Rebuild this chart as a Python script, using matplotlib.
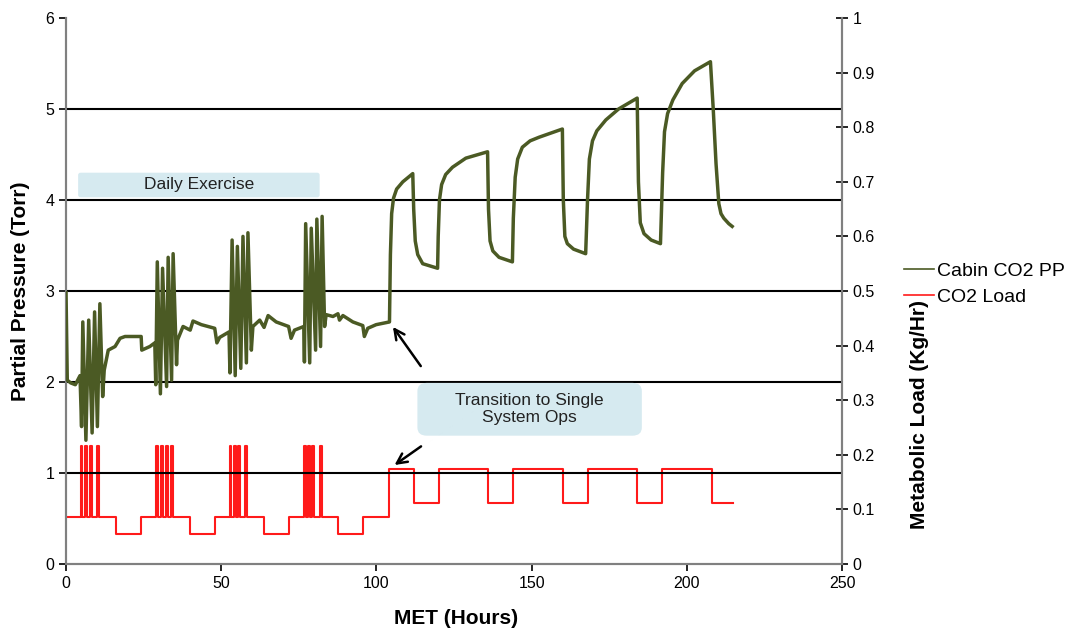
import matplotlib
matplotlib.use("Agg")
import matplotlib.pyplot as plt
from matplotlib.patches import FancyBboxPatch

plt.rcParams['font.family'] = ['Liberation Sans', 'DejaVu Sans']

# Cabin CO2 partial pressure (Torr) vs MET (hours)
pp_t = [0, 0.4, 1.5, 3.0, 4.5, 5.0, 5.4, 6.4, 7.3, 8.4, 9.2, 10.1, 10.9, 11.8,
        12.3, 13.6, 15.8, 17.4, 19.0, 24.2, 24.4, 27.0, 28.6,
        28.9, 29.4, 30.4, 31.1, 32.4, 32.9, 34.0, 34.5, 35.6,
        35.9, 37.7, 40.0, 40.9, 43.6, 47.9, 48.6, 49.5, 52.5,
        52.8, 53.5, 54.5, 55.2, 56.3, 57.0, 58.1, 58.6, 59.7,
        60.2, 62.4, 63.8, 65.1, 67.7, 71.7, 72.5, 73.6, 76.6,
        76.8, 77.2, 78.5, 79.0, 80.4, 80.8, 82.0, 82.5, 83.3,
        83.8, 86.0, 87.6, 88.1, 89.2, 92.4, 95.6, 96.1, 97.2, 99.9, 104.2,
        104.5, 104.9, 105.5, 106.5, 108.5, 111.7,
        112.0, 112.5, 113.3, 114.9, 119.7,
        119.9, 120.3, 121.0, 122.3, 124.5, 128.8, 135.8,
        136.1, 136.6, 137.5, 139.5, 143.8,
        144.1, 144.7, 145.5, 147.0, 149.5, 152.4, 159.9,
        160.2, 160.7, 161.5, 163.5, 167.4,
        168.0, 168.6, 169.6, 171.0, 173.9, 178.0, 184.0,
        184.4, 185.0, 186.2, 188.5, 191.5,
        192.2, 192.8, 193.8, 195.5, 198.5, 202.5, 207.6,
        208.5, 209.4, 210.3, 211.0, 211.9, 213.5, 214.6]
pp_v = [2.98, 2.02, 1.99, 1.97, 2.07, 1.51, 2.66, 1.36, 2.68, 1.44, 2.77, 1.51, 2.86, 1.84,
        2.13, 2.35, 2.39, 2.48, 2.50, 2.50, 2.35, 2.39, 2.43,
        1.97, 3.32, 1.87, 3.25, 1.95, 3.37, 2.02, 3.41, 2.19,
        2.46, 2.61, 2.57, 2.67, 2.63, 2.59, 2.43, 2.49, 2.55,
        2.10, 3.56, 2.07, 3.49, 2.15, 3.60, 2.21, 3.64, 2.35,
        2.61, 2.68, 2.60, 2.73, 2.66, 2.61, 2.48, 2.57, 2.61,
        2.22, 3.74, 2.21, 3.69, 2.35, 3.79, 2.39, 3.82, 2.61,
        2.74, 2.72, 2.75, 2.68, 2.73, 2.66, 2.62, 2.50, 2.59, 2.63, 2.66,
        3.40, 3.85, 4.02, 4.12, 4.20, 4.29,
        3.90, 3.55, 3.40, 3.30, 3.25,
        3.60, 4.00, 4.17, 4.28, 4.36, 4.46, 4.53,
        3.90, 3.55, 3.44, 3.37, 3.32,
        3.80, 4.25, 4.45, 4.58, 4.65, 4.69, 4.78,
        4.00, 3.60, 3.52, 3.46, 3.41,
        4.00, 4.45, 4.65, 4.76, 4.88, 5.00, 5.12,
        4.20, 3.75, 3.63, 3.56, 3.52,
        4.30, 4.75, 4.95, 5.10, 5.28, 5.42, 5.52,
        5.00, 4.40, 3.96, 3.85, 3.80, 3.74, 3.71]

# CO2 load (kg/hr), step changes at these times
load_t = [0, 4.7, 5.3, 6.2, 6.8, 7.7, 8.3, 9.9, 10.6, 16.1,
          24.3, 29.0, 29.6, 30.5, 31.1, 32.2, 32.8, 33.9, 34.6, 39.9,
          48.0, 52.7, 53.3, 54.0, 54.6, 55.5, 56.1, 57.6, 58.3, 63.7,
          71.8, 76.6, 77.2, 77.9, 78.5, 79.3, 79.9, 81.7, 82.4, 87.6,
          95.6, 104, 112, 120, 136, 144, 160, 168, 184, 192, 208, 215]
load_v = [0.086, 0.216, 0.086, 0.216, 0.086, 0.216, 0.086, 0.216, 0.086, 0.055,
          0.086, 0.216, 0.086, 0.216, 0.086, 0.216, 0.086, 0.216, 0.086, 0.055,
          0.086, 0.216, 0.086, 0.216, 0.086, 0.216, 0.086, 0.216, 0.086, 0.055,
          0.086, 0.216, 0.086, 0.216, 0.086, 0.216, 0.086, 0.216, 0.086, 0.055,
          0.086, 0.174, 0.111, 0.174, 0.111, 0.174, 0.111, 0.174, 0.111, 0.174, 0.111, 0.111]

fig = plt.figure(figsize=(10.79, 6.30), dpi=100)
ax = fig.add_axes([0.0612, 0.1048, 0.7192, 0.8666])
ax2 = ax.twinx()

# grid
for y in [1, 2, 3, 4, 5]:
    ax.axhline(y, color='black', lw=1.5, zorder=1)

g, = ax.plot(pp_t, pp_v, color='#4B5A24', lw=2.5, zorder=3, label='Cabin CO2 PP')
r, = ax2.plot(load_t, load_v, color='#FF1A1A', lw=1.5, drawstyle='steps-post', label='CO2 Load')

ax.set_xlim(0, 250)
ax.set_ylim(0, 6)
ax2.set_ylim(0, 1)
ax.set_xticks([0, 50, 100, 150, 200, 250])
ax.set_yticks(range(7))
ax2.set_yticks([0, 0.1, 0.2, 0.3, 0.4, 0.5, 0.6, 0.7, 0.8, 0.9, 1])
ax2.set_yticklabels(['0', '0.1', '0.2', '0.3', '0.4', '0.5', '0.6', '0.7', '0.8', '0.9', '1'])

for a in (ax, ax2):
    a.spines['top'].set_visible(False)
    for s in ('left', 'right', 'bottom'):
        a.spines[s].set_color('#808080')
        a.spines[s].set_linewidth(1.5)
ax.tick_params(axis='both', labelsize=11.5, length=5, width=1.2, color='black')
ax2.tick_params(axis='y', labelsize=11.5, length=8, width=1.2, direction='inout', color='black')

ax.set_xlabel('MET (Hours)', fontsize=15, fontweight='bold')
ax.xaxis.set_label_coords(0.503, -0.082)
ax.set_ylabel('Partial Pressure (Torr)', fontsize=15, fontweight='bold')
ax.yaxis.set_label_coords(-0.047, 0.5)
ax2.set_ylabel('Metabolic Load (Kg/Hr)', fontsize=15, fontweight='bold')
ax2.yaxis.set_label_coords(1.088, 0.273)

# annotation boxes
box1 = FancyBboxPatch((3.9, 4.03), 77.8, 0.27, boxstyle='round,pad=0,rounding_size=0.8',
                      mutation_aspect=0.03, fc='#D6EAF0', ec='none', zorder=2)
ax.add_patch(box1)
ax.text(42.8, 4.165, 'Daily Exercise', ha='center', va='center', fontsize=12.5, color='#222222', zorder=4)

box2 = FancyBboxPatch((113.2, 1.41), 72.3, 0.58, boxstyle='round,pad=0,rounding_size=3',
                      mutation_aspect=0.03, fc='#D6EAF0', ec='none', zorder=2)
ax.add_patch(box2)
ax.text(149.3, 1.70, 'Transition to Single\nSystem Ops', ha='center', va='center',
        fontsize=12.5, color='#222222', linespacing=1.2, zorder=4)

ax.annotate('', xy=(104.8, 2.63), xytext=(114.8, 2.15),
            arrowprops=dict(arrowstyle='->', color='black', lw=1.8, mutation_scale=18), zorder=5)
ax.annotate('', xy=(105.1, 1.07), xytext=(115.1, 1.31),
            arrowprops=dict(arrowstyle='->', color='black', lw=1.8, mutation_scale=18), zorder=5)

ax.set_zorder(ax2.get_zorder() + 1)
ax.patch.set_visible(False)

fig.legend(handles=[g, r], loc='center left', bbox_to_anchor=(0.822, 0.549), frameon=False,
           fontsize=14, handlelength=1.5, handletextpad=0.2, labelspacing=0.45)
for h in fig.legends[0].get_lines():
    h.set_linewidth(1.2)

fig.savefig('out.png', dpi=100)
